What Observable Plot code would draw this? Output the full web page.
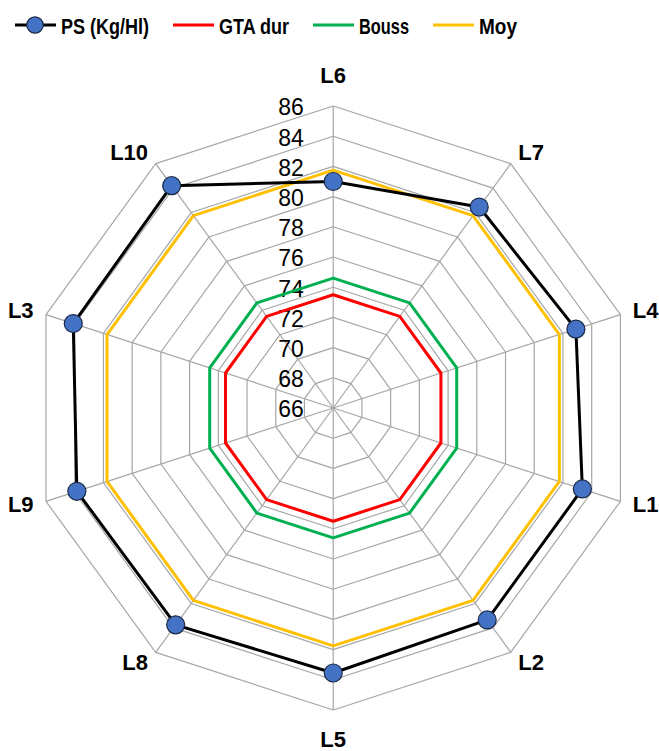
<!DOCTYPE html>
<html>
<head>
<meta charset="utf-8">
<script src="https://cdn.jsdelivr.net/npm/d3@7"></script>
<script src="https://cdn.jsdelivr.net/npm/@observablehq/plot@0.6"></script>
<style>
  body { margin: 0; background: #fff; font-family: "Liberation Sans", Arial, sans-serif; }
  #legend svg, #chart svg { display: block; }
</style>
</head>
<body>
<div id="legend"></div>
<div id="chart"></div>
<script>
// ---- data ----
const categories = ["L6", "L7", "L4", "L1", "L2", "L5", "L8", "L9", "L3", "L10"];
const psValues    = [81.0, 82.45, 82.9, 83.35, 83.35, 83.55, 83.75, 83.85, 84.1, 84.2];
const gtaValues   = [73.5, 73.5, 73.5, 73.5, 73.5, 73.5, 73.5, 73.5, 73.5, 73.5];
const boussValues = [74.6, 74.6, 74.6, 74.6, 74.6, 74.6, 74.6, 74.6, 74.6, 74.6];
const moyValues   = [81.75, 81.75, 81.75, 81.75, 81.75, 81.75, 81.75, 81.75, 81.75, 81.75];
const tickValues  = [66, 68, 70, 72, 74, 76, 78, 80, 82, 84, 86];
const seriesNames  = ["PS (Kg/Hl)", "GTA dur", "Bouss", "Moy"];
const seriesColors = ["#000000", "#FF0000", "#00B050", "#FFC000"];

// ---- geometry helpers ----
const W = 659, H = 701;
const cx = 332.7, cy = 357.5, k = 15.1;   // centre (px) and px per unit
const rMin = tickValues[0], rMax = tickValues[tickValues.length - 1];
const n = categories.length;
const ang = i => 2 * Math.PI * i / n;
const px = (i, v) => (v - rMin) * Math.sin(ang(i));
const py = (i, v) => (v - rMin) * Math.cos(ang(i));
const closed = vals => d3.range(n + 1).map(j => ({ x: px(j % n, vals[j % n]), y: py(j % n, vals[j % n]) }));

// grid rings and spokes
const rings = tickValues.slice(1).flatMap(t => d3.range(n + 1).map(j => ({ t, x: px(j % n, t), y: py(j % n, t) })));
const spokes = categories.map((c, i) => ({ x2: px(i, rMax), y2: py(i, rMax) }));

// category labels: side labels anchored at their inner edge, top/bottom centred
const catLabels = categories.map((c, i) => {
  const s = Math.sin(ang(i));
  const side = Math.abs(s) < 0.01 ? "middle" : (s > 0 ? "start" : "end");
  const R = (side === "middle" ? 332 : 315) / k;
  return { c, side, x: R * Math.sin(ang(i)), y: R * Math.cos(ang(i)) };
});
const labelMark = side => Plot.text(catLabels.filter(d => d.side === side),
  { x: "x", y: "y", text: "c", textAnchor: side, fontSize: 22, fontWeight: "bold", fill: "#000" });

const psPts = categories.map((c, i) => ({ x: px(i, psValues[i]), y: py(i, psValues[i]) }));

const chart = Plot.plot({
  width: W, height: H, margin: 0,
  x: { domain: [-cx / k, (W - cx) / k], range: [0, W], axis: null },
  y: { domain: [-(H - cy) / k, cy / k], range: [H, 0], axis: null },
  style: { fontFamily: "'Liberation Sans', Arial, sans-serif", background: "#fff" },
  marks: [
    Plot.line(rings, { x: "x", y: "y", z: "t", stroke: "#A6A6A6", strokeWidth: 1.2 }),
    Plot.link(spokes, { x1: () => 0, y1: () => 0, x2: "x2", y2: "y2", stroke: "#A6A6A6", strokeWidth: 1.2 }),
    Plot.text(tickValues, { x: () => 0, y: t => t - rMin, text: t => String(t), dx: -29.4, dy: 2, textAnchor: "end", fontSize: 23, fill: "#000" }),
    Plot.line(closed(gtaValues), { x: "x", y: "y", stroke: seriesColors[1], strokeWidth: 3 }),
    Plot.line(closed(boussValues), { x: "x", y: "y", stroke: seriesColors[2], strokeWidth: 3 }),
    Plot.line(closed(moyValues), { x: "x", y: "y", stroke: seriesColors[3], strokeWidth: 3 }),
    Plot.line(closed(psValues), { x: "x", y: "y", stroke: seriesColors[0], strokeWidth: 3 }),
    Plot.dot(psPts, { x: "x", y: "y", r: 9, fill: "#4472C4", stroke: "#1B2A47", strokeWidth: 1.2 }),
    labelMark("start"), labelMark("end"), labelMark("middle")
  ]
});
document.getElementById("chart").appendChild(chart);

// ---- legend (svg above the chart) ----
const legendTextWidths = [88, 70, 50, 38];   // rendered widths of the legend labels
const lg = d3.select("#legend").append("svg").attr("width", W).attr("height", 50);
let xPos = 15;
seriesNames.forEach((name, i) => {
  lg.append("line").attr("x1", xPos).attr("x2", xPos + 41).attr("y1", 25).attr("y2", 25)
    .attr("stroke", seriesColors[i]).attr("stroke-width", 3);
  if (i === 0) lg.append("circle").attr("cx", xPos + 20).attr("cy", 25).attr("r", 8.2)
    .attr("fill", "#4472C4").attr("stroke", "#1B2A47").attr("stroke-width", 1.2);
  lg.append("text").attr("x", xPos + 46).attr("y", 34)
    .attr("font-family", "'Liberation Sans', Arial, sans-serif").attr("font-weight", "bold").attr("font-size", 22)
    .attr("textLength", legendTextWidths[i]).attr("lengthAdjust", "spacingAndGlyphs")
    .text(name);
  xPos += 41 + 5 + legendTextWidths[i] + 24;
});
</script>
</body>
</html>
